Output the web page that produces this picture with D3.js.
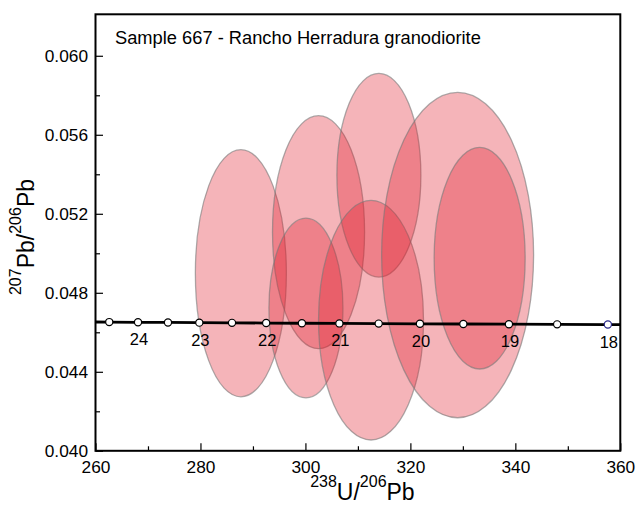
<!DOCTYPE html>
<html>
<head>
<meta charset="utf-8">
<script src="https://cdn.jsdelivr.net/npm/d3@7"></script>
<style>
  html, body { margin: 0; padding: 0; background: #fff; }
  svg { display: block; font-family: "Liberation Sans", Arial, sans-serif; }
</style>
</head>
<body>
<svg id="chart" width="639" height="506"></svg>
<script>
// ---- Data ----
const title = "Sample 667 - Rancho Herradura granodiorite";
const xDomain = [260, 360];
const yDomain = [0.040, 0.0621];
const xMajorTicks = [260, 280, 300, 320, 340, 360];
const xMinorTicks = [270, 290, 310, 330, 350];
const yMajorTicks = [0.040, 0.044, 0.048, 0.052, 0.056, 0.060];
const yMinorTicks = [0.042, 0.046, 0.050, 0.054, 0.058];

// Error ellipses: centre (238U/206Pb, 207Pb/206Pb) and semi-axes
const ellCx = [287.7, 302.5, 300.1, 314.0, 312.5, 329.0, 333.2];
const ellCy = [0.04899, 0.05107, 0.04723, 0.05395, 0.04661, 0.04991, 0.04975];
const ellRx = [8.67, 8.77, 7.05, 8.0, 10.0, 14.48, 8.67];
const ellRy = [0.006256, 0.005897, 0.004548, 0.005154, 0.006064, 0.008237, 0.005609];

// Concordia curve markers (age in Ma)
const concAges = [24.5, 24, 23.5, 23, 22.5, 22, 21.5, 21, 20.5, 20, 19.5, 19, 18.5, 18];
const concX = [262.62, 268.10, 273.81, 279.78, 286.01, 292.52, 299.33, 306.47, 313.96, 321.82, 330.09, 338.78, 347.96, 357.63];
const concY = [0.046517, 0.046507, 0.046498, 0.046488, 0.046478, 0.046469, 0.046459, 0.04645, 0.04644, 0.04643, 0.046421, 0.046411, 0.046402, 0.046392];
const concLineX = [260, 262.62, 268.10, 273.81, 279.78, 286.01, 292.52, 299.33, 306.47, 313.96, 321.82, 330.09, 338.78, 347.96, 357.63, 360];
const concLineY = [0.046521, 0.046517, 0.046507, 0.046498, 0.046488, 0.046478, 0.046469, 0.046459, 0.04645, 0.04644, 0.04643, 0.046421, 0.046411, 0.046402, 0.046392, 0.046389];
const labeledAges = [24, 23, 22, 21, 20, 19, 18];

// ---- Layout ----
const margin = { left: 95.5, right: 639 - 620.3, top: 14.3, bottom: 506 - 450.8 };
const W = 639, H = 506;
const svg = d3.select("#chart");
const x = d3.scaleLinear().domain(xDomain).range([margin.left, W - margin.right]);
const y = d3.scaleLinear().domain(yDomain).range([H - margin.bottom, margin.top]);

const clipId = "plotclip";
svg.append("defs").append("clipPath").attr("id", clipId)
  .append("rect")
  .attr("x", x(xDomain[0])).attr("y", y(yDomain[1]))
  .attr("width", x(xDomain[1]) - x(xDomain[0]))
  .attr("height", y(yDomain[0]) - y(yDomain[1]));

const plot = svg.append("g").attr("clip-path", `url(#${clipId})`);

// Ellipses
const ellData = ellCx.map((cx, i) => ({ cx, cy: ellCy[i], rx: ellRx[i], ry: ellRy[i] }));
plot.selectAll("ellipse.err").data(ellData).enter().append("ellipse")
  .attr("class", "err")
  .attr("cx", d => x(d.cx))
  .attr("cy", d => y(d.cy))
  .attr("rx", d => x(d.cx + d.rx) - x(d.cx))
  .attr("ry", d => y(d.cy - d.ry) - y(d.cy))
  .attr("fill", "rgb(226,26,44)")
  .attr("fill-opacity", 0.33)
  .attr("stroke", "rgb(120,120,120)")
  .attr("stroke-opacity", 0.6)
  .attr("stroke-width", 1.3);

// Concordia line
const lineData = concLineX.map((v, i) => [v, concLineY[i]]);
plot.append("path")
  .datum(lineData)
  .attr("d", d3.line().x(d => x(d[0])).y(d => y(d[1])))
  .attr("fill", "none")
  .attr("stroke", "#000")
  .attr("stroke-width", 2.8);

// Markers
const markers = concAges.map((a, i) => ({ age: a, u: concX[i], v: concY[i] }));
plot.selectAll("circle.mk").data(markers).enter().append("circle")
  .attr("class", "mk")
  .attr("cx", d => x(d.u))
  .attr("cy", d => y(d.v))
  .attr("r", 3.6)
  .attr("fill", "#fff")
  .attr("stroke", d => d.age === 18 ? "#2a2a8a" : "#000")
  .attr("stroke-width", 1.2);

// Age labels
svg.selectAll("text.age").data(markers.filter(d => labeledAges.includes(d.age))).enter().append("text")
  .attr("class", "age")
  .attr("x", d => x(d.u) + 1)
  .attr("y", d => y(d.v) + 23)
  .attr("text-anchor", "middle")
  .attr("font-size", 16.5)
  .attr("fill", "#000")
  .text(d => d.age);

// Axes (ticks inward)
const axB = svg.append("g").attr("transform", `translate(0,${y(yDomain[0])})`);
axB.call(d3.axisBottom(x).tickValues(xMajorTicks).tickSizeInner(-7.5).tickSizeOuter(0).tickPadding(10).tickFormat(d3.format("d")));
axB.append("g").call(d3.axisBottom(x).tickValues(xMinorTicks).tickSizeInner(-4.5).tickSizeOuter(0).tickFormat(""));

const axL = svg.append("g").attr("transform", `translate(${x(xDomain[0])},0)`);
axL.call(d3.axisLeft(y).tickValues(yMajorTicks).tickSizeInner(-7.5).tickSizeOuter(0).tickPadding(7.5).tickFormat(d3.format(".3f")));
axL.append("g").call(d3.axisLeft(y).tickValues(yMinorTicks).tickSizeInner(-4.5).tickSizeOuter(0).tickFormat(""));

svg.selectAll(".domain").remove();
svg.selectAll(".tick line").attr("stroke", "#000").attr("stroke-width", 1.2);
svg.selectAll(".tick text").attr("font-size", 17.3).attr("fill", "#000").attr("font-family", "Liberation Sans, Arial, sans-serif");

// Frame
svg.append("rect")
  .attr("x", x(xDomain[0])).attr("y", y(yDomain[1]))
  .attr("width", x(xDomain[1]) - x(xDomain[0]))
  .attr("height", y(yDomain[0]) - y(yDomain[1]))
  .attr("fill", "none").attr("stroke", "#000").attr("stroke-width", 2);

// Title inside plot
svg.append("text")
  .attr("x", 115).attr("y", 44)
  .attr("font-size", 18.3).attr("fill", "#000")
  .text(title);

// X axis title
const xt = svg.append("text")
  .attr("x", (x(xDomain[0]) + x(xDomain[1])) / 2 + 4.5)
  .attr("y", 500)
  .attr("text-anchor", "middle")
  .attr("font-size", 23).attr("fill", "#000");
xt.append("tspan").attr("font-size", 16).attr("dy", -13).text("238");
xt.append("tspan").attr("dy", 13).text("U/");
xt.append("tspan").attr("font-size", 16).attr("dy", -13).text("206");
xt.append("tspan").attr("dy", 13).text("Pb");

// Y axis title
const yt = svg.append("text")
  .attr("transform", `translate(34,${237}) rotate(-90)`)
  .attr("text-anchor", "middle")
  .attr("font-size", 23).attr("fill", "#000");
yt.append("tspan").attr("font-size", 16).attr("dy", -13).text("207");
yt.append("tspan").attr("dy", 13).text("Pb/");
yt.append("tspan").attr("font-size", 16).attr("dy", -13).text("206");
yt.append("tspan").attr("dy", 13).text("Pb");
</script>
</body>
</html>
